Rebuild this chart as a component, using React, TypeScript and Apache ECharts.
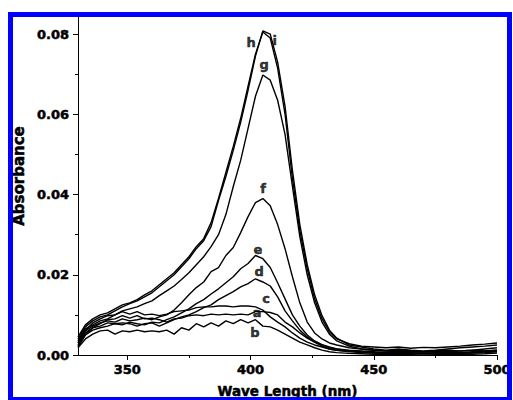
import React, { useEffect, useRef } from "react";
import * as echarts from "echarts";

const wavelengths = [330,333,336,339,342,345,348,351,354,357,360,363,366,369,372,375,378,381,384,387,390,393,396,399,402,405,408,411,414,417,420,423,426,429,432,435,440,445,450,455,460,465,470,475,480,485,490,495,500];

const seriesA = [0.0020,0.0050,0.0068,0.0078,0.0088,0.0090,0.0098,0.0092,0.0098,0.0090,0.0092,0.0088,0.0082,0.0090,0.0092,0.0098,0.0100,0.0098,0.0102,0.0100,0.0102,0.0100,0.0102,0.0100,0.0108,0.0108,0.0106,0.0100,0.0082,0.0070,0.0055,0.0042,0.0032,0.0022,0.0015,0.0012,
  0.0008,0.0006,0.0005,0.0004,0.0003,0.0004,0.0003,0.0004,0.0005,0.0004,0.0005,0.0006,0.0008];
const seriesB = [0.0018,0.0040,0.0052,0.0060,0.0062,0.0052,0.0060,0.0058,0.0062,0.0058,0.0060,0.0058,0.0062,0.0052,0.0068,0.0062,0.0078,0.0070,0.0080,0.0072,0.0085,0.0078,0.0088,0.0080,0.0088,0.0072,0.0070,0.0062,0.0052,0.0042,0.0032,0.0025,0.0018,0.0012,0.0008,0.0006,
  0.0004,0.0003,0.0002,0.0001,0.0002,0.0001,0.0000,0.0001,0.0002,0.0001,0.0002,0.0003,0.0005];
const seriesC = [0.0030,0.0062,0.0080,0.0090,0.0098,0.0100,0.0108,0.0102,0.0108,0.0100,0.0102,0.0098,0.0102,0.0108,0.0110,0.0112,0.0118,0.0120,0.0120,0.0122,0.0122,0.0120,0.0122,0.0122,0.0120,0.0112,0.0095,0.0082,0.0070,0.0055,0.0042,0.0032,0.0025,0.0020,0.0015,0.0012,
  0.0010,0.0008,0.0006,0.0005,0.0004,0.0005,0.0004,0.0005,0.0006,0.0005,0.0006,0.0008,0.0010];
const seriesD = [0.0022,0.0050,0.0062,0.0068,0.0072,0.0078,0.0080,0.0078,0.0072,0.0078,0.0080,0.0072,0.0080,0.0088,0.0095,0.0100,0.0108,0.0118,0.0125,0.0138,0.0148,0.0158,0.0170,0.0178,0.0190,0.0182,0.0172,0.0145,0.0110,0.0085,0.0062,0.0045,0.0032,0.0025,0.0018,0.0015,
  0.0010,0.0008,0.0006,0.0005,0.0006,0.0005,0.0004,0.0005,0.0006,0.0005,0.0006,0.0008,0.0010];
const seriesE = [0.0025,0.0055,0.0068,0.0072,0.0080,0.0078,0.0075,0.0082,0.0078,0.0075,0.0082,0.0080,0.0088,0.0095,0.0105,0.0115,0.0128,0.0138,0.0152,0.0165,0.0180,0.0195,0.0215,0.0228,0.0248,0.0240,0.0218,0.0180,0.0140,0.0100,0.0072,0.0050,0.0035,0.0026,0.0020,0.0015,
  0.0012,0.0010,0.0008,0.0006,0.0008,0.0006,0.0005,0.0006,0.0008,0.0006,0.0008,0.0010,0.0012];
const seriesF = [0.0030,0.0060,0.0072,0.0080,0.0085,0.0082,0.0090,0.0085,0.0088,0.0092,0.0088,0.0095,0.0100,0.0112,0.0130,0.0150,0.0168,0.0182,0.0208,0.0218,0.0248,0.0268,0.0305,0.0345,0.0380,0.0390,0.0372,0.0325,0.0265,0.0195,0.0130,0.0082,0.0055,0.0040,0.0030,0.0025,
  0.0018,0.0015,0.0012,0.0010,0.0012,0.0010,0.0008,0.0010,0.0008,0.0010,0.0012,0.0010,0.0012];
const seriesG = [0.0035,0.0065,0.0075,0.0085,0.0090,0.0100,0.0110,0.0115,0.0120,0.0128,0.0135,0.0148,0.0160,0.0172,0.0188,0.0205,0.0225,0.0245,0.0270,0.0300,0.0350,0.0420,0.0485,0.0565,0.0645,0.0698,0.0685,0.0635,0.0550,0.0420,0.0295,0.0200,0.0130,0.0082,0.0052,0.0035,
  0.0022,0.0015,0.0012,0.0010,0.0008,0.0010,0.0008,0.0010,0.0012,0.0010,0.0012,0.0015,0.0018];
const seriesH = [0.0045,0.0075,0.0090,0.0100,0.0105,0.0115,0.0125,0.0130,0.0138,0.0150,0.0160,0.0175,0.0190,0.0205,0.0225,0.0245,0.0270,0.0290,0.0330,0.0390,0.0455,0.0520,0.0590,0.0670,0.0750,0.0805,0.0790,0.0715,0.0600,0.0440,0.0310,0.0215,0.0140,0.0090,0.0058,0.0040,
  0.0028,0.0022,0.0020,0.0018,0.0020,0.0017,0.0019,0.0018,0.0020,0.0022,0.0025,0.0027,0.0030];
const seriesI = [0.0040,0.0070,0.0085,0.0095,0.0100,0.0110,0.0120,0.0128,0.0135,0.0145,0.0155,0.0170,0.0185,0.0200,0.0220,0.0240,0.0265,0.0285,0.0320,0.0385,0.0445,0.0510,0.0580,0.0660,0.0745,0.0808,0.0800,0.0730,0.0620,0.0460,0.0325,0.0225,0.0150,0.0098,0.0062,0.0042,
  0.0025,0.0020,0.0015,0.0012,0.0015,0.0012,0.0010,0.0012,0.0015,0.0018,0.0020,0.0022,0.0025];

const curveNames = ["a","b","c","d","e","f","g","h","i"];
const curves = [seriesA, seriesB, seriesC, seriesD, seriesE, seriesF, seriesG, seriesH, seriesI];

const labelNames = ["h","i","g","f","e","d","c","a","b"];
const labelNm = [400.2, 409.8, 405.5, 405.1, 403.0, 403.5, 406.3, 402.7, 401.8];
const labelAbs = [0.0780, 0.0785, 0.0723, 0.0416, 0.0264, 0.0207, 0.0142, 0.0105, 0.0055];

const xMajorTicks = [350, 400, 450, 500];
const xMinorTicks = [375, 425, 475];
const xTitle = "Wave Length (nm)";
const yTitle = "Absorbance";

const FONT = "DejaVu Sans";
const heavy = { textBorderColor: "#000", textBorderWidth: 0.5 };

export default function App() {
  const ref = useRef<HTMLDivElement>(null);
  useEffect(() => {
    if (!ref.current) return;
    const chart = echarts.init(ref.current, null, { renderer: "svg" });
    const lineSeries = curves.map((vals, k) => ({
      type: "line",
      name: curveNames[k],
      xAxisIndex: 0,
      yAxisIndex: 0,
      data: wavelengths.map((w, j) => [w, vals[j]]),
      showSymbol: false,
      symbol: "none",
      lineStyle: { color: "#000", width: 1.4 },
      z: 3,
    }));
    const labelSeries = {
      type: "scatter",
      xAxisIndex: 0,
      yAxisIndex: 0,
      symbolSize: 0,
      itemStyle: { color: "#000" },
      data: labelNames.map((n, k) => ({ name: n, value: [labelNm[k], labelAbs[k]] })),
      label: {
        show: true,
        position: "inside",
        formatter: "{b}",
        color: "#000",
        fontFamily: FONT,
        fontWeight: "bold",
        fontSize: 13,
        ...heavy,
      },
      z: 5,
    };
    chart.setOption({
      animation: false,
      backgroundColor: "#fff",
      grid: { left: 78, top: 16, right: 16, bottom: 45, containLabel: false, outerBoundsMode: "none" },
      xAxis: [
        {
          type: "value",
          min: 330,
          max: 500,
          position: "bottom",
          name: xTitle,
          nameLocation: "middle",
          nameGap: 29,
          nameTextStyle: { color: "#000", fontFamily: FONT, fontWeight: "bold", fontSize: 13.5, ...heavy },
          axisLine: { show: true, onZero: false, lineStyle: { color: "#000", width: 1 } },
          axisTick: { show: true, inside: false, length: 5, customValues: xMajorTicks, lineStyle: { color: "#000" } },
          axisLabel: { show: true, customValues: xMajorTicks, margin: 8, color: "#000", fontFamily: FONT, fontWeight: "bold", fontSize: 13, ...heavy },
          splitLine: { show: false },
        },
        {
          type: "value",
          min: 330,
          max: 500,
          position: "bottom",
          axisLine: { show: false, onZero: false },
          axisTick: { show: true, inside: false, length: 3, customValues: xMinorTicks, lineStyle: { color: "#000" } },
          axisLabel: { show: false },
          splitLine: { show: false },
        },
      ],
      yAxis: [
        {
          type: "value",
          min: 0,
          max: 0.0845,
          interval: 0.02,
          axisLine: { show: true, onZero: false, lineStyle: { color: "#000", width: 1 } },
          axisTick: { show: true, inside: false, length: 5, lineStyle: { color: "#000" } },
          minorTick: { show: true, splitNumber: 2, length: 3, lineStyle: { color: "#000" } },
          axisLabel: {
            show: true,
            margin: 9,
            color: "#000",
            fontFamily: FONT,
            fontWeight: "bold",
            fontSize: 13,
            ...heavy,
            formatter: (v: number) => (v > 0.0842 ? "" : v.toFixed(2)),
          },
          splitLine: { show: false },
          minorSplitLine: { show: false },
        },
      ],
      graphic: [
        {
          type: "text",
          x: 19,
          y: 176,
          rotation: Math.PI / 2,
          style: {
            text: yTitle,
            fill: "#000",
            font: `bold 15px "${FONT}"`,
            align: "center",
            verticalAlign: "middle",
            stroke: "#000",
            lineWidth: 0.5,
          },
          z: 10,
        },
        {
          type: "rect",
          shape: { x: 10.5, y: 14.5, width: 499, height: 385 },
          style: { fill: "none", stroke: "#0000ff", lineWidth: 5 },
          z: 20,
        },
      ],
      series: [...lineSeries, labelSeries],
    });
    return () => chart.dispose();
  }, []);
  return (
    <div
      ref={ref}
      style={{ position: "fixed", left: 0, top: 0, width: 513, height: 400, background: "#fff" }}
    />
  );
}
